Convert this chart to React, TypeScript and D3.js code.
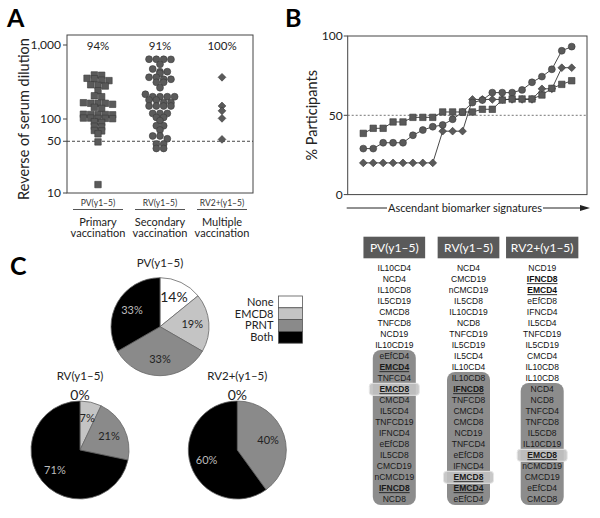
import React from 'react';
import * as d3 from 'd3';

// ---------- Panel A data ----------
const groups = ['PV(y1–5)', 'RV(y1–5)', 'RV2+(y1–5)'];
const groupNames = [['Primary', 'vaccination'], ['Secondary', 'vaccination'], ['Multiple', 'vaccination']];
const groupPct = ['94%', '91%', '100%'];
const pvTiters = [394, 390, 355, 350, 335, 330, 290, 285, 279, 241, 206, 200, 166, 163, 163, 163, 158, 144, 139,
  115, 115, 114, 115, 116, 102, 103, 101, 103, 102, 90, 92, 78, 80, 69, 70, 63, 49, 13];
const rvTiters = [641, 643, 639, 641, 548, 474, 436, 436, 415, 366, 366, 344, 344, 313, 313, 265, 216, 200, 200, 200, 200,
  181, 181, 166, 166, 150, 150, 150, 150, 119, 119, 119, 105, 105, 95, 81, 81, 71, 59, 59, 54, 46, 46, 40, 40];
const rv2Titers = [366, 150, 129, 102, 53];
const titerTicks = [10, 50, 100, 1000];
const titerCutoff = 50;

// ---------- Panel B data ----------
const pvPct = [38.6, 41.8, 41.8, 45.8, 45.8, 48.7, 48.7, 48.7, 52.1, 52.1, 52.1, 52.1, 53.8, 53.8, 59.6, 60.3, 60.3, 60.3, 62.8, 67, 69.5, 71.8];
const rvPct = [29, 29, 32.7, 32.7, 32.7, 37.4, 40.7, 42.8, 43.9, 47.5, 52, 58, 59.6, 64.3, 64.3, 64.3, 66, 70.8, 74.4, 79, 90.7, 93.3];
const rv2Pct = [20, 20, 20, 20, 20, 20, 20, 20, 40, 40, 40, 60, 60, 60, 60, 60, 60, 60, 66.7, 66.7, 80, 80];
const pctTicks = [0, 50, 100];

// ---------- Panel C data ----------
const pieCats = ['None', 'EMCD8', 'PRNT', 'Both'];
const pieColors = ['#ffffff', '#c4c4c4', '#8a8a8a', '#000000'];
const pvPie = [14, 19, 33, 33];
const rvPie = [0, 7, 21, 71];
const rv2Pie = [0, 0, 40, 60];

// ---------- Signature table ----------
const pvSig = ['IL10CD4', 'NCD4', 'IL10CD8', 'IL5CD19', 'CMCD8', 'TNFCD8', 'NCD19', 'IL10CD19', 'eEfCD4', 'EMCD4', 'TNFCD4',
  'EMCD8', 'CMCD4', 'IL5CD4', 'TNFCD19', 'IFNCD4', 'eEfCD8', 'IL5CD8', 'CMCD19', 'nCMCD19', 'IFNCD8', 'NCD8'];
const rvSig = ['NCD4', 'CMCD19', 'nCMCD19', 'IL5CD8', 'IL10CD19', 'NCD8', 'TNFCD19', 'IL5CD19', 'IL5CD4', 'IL10CD4', 'IL10CD8',
  'IFNCD8', 'TNFCD8', 'CMCD4', 'CMCD8', 'NCD19', 'TNFCD4', 'eEfCD8', 'IFNCD4', 'EMCD8', 'EMCD4', 'eEfCD4'];
const rv2Sig = ['NCD19', 'IFNCD8', 'EMCD4', 'eEfCD8', 'IFNCD4', 'IL5CD4', 'TNFCD19', 'IL5CD19', 'CMCD4', 'IL10CD8', 'IL10CD8',
  'NCD4', 'NCD8', 'TNFCD4', 'TNFCD8', 'IL5CD8', 'IL10CD19', 'EMCD8', 'nCMCD19', 'CMCD19', 'eEfCD4', 'CMCD8'];
const sigShadeStart = [8, 10, 11];
const boldSigs = ['EMCD4', 'EMCD8', 'IFNCD8'];
const highlightSig = 'EMCD8';

const FONT = 'Lato, "Open Sans", sans-serif';
const ARIAL = '"Liberation Sans", Arial, sans-serif';
const MARK = '#5a5a5a';
const MARK_STROKE = '#3a3a3a';

type Pt = { v: number; x: number; y: number };

// Prism-like column scatter: bin points into rows, centre each row.
function swarm(values: number[], y: (v: number) => number, xc: number, d: number, binH: number): Pt[] {
  const pts: Pt[] = values.map(v => ({ v, x: xc, y: y(v) })).sort((a, b) => a.y - b.y);
  const rows: Pt[][] = [];
  for (const p of pts) {
    const last = rows[rows.length - 1];
    if (last && p.y - last[0].y < binH) last.push(p);
    else rows.push([p]);
  }
  for (const row of rows) {
    const n = row.length;
    row.forEach((p, j) => { p.x = xc + (j - (n - 1) / 2) * d; });
  }
  return pts;
}

const squarePath = d3.symbol().type(d3.symbolSquare).size(42)()!;
const diamondPath = d3.symbol().type(d3.symbolSquare).size(30)()!;

function Marker({ kind, x, y }: { kind: number; x: number; y: number }) {
  if (kind === 0) return <path d={squarePath} transform={`translate(${x},${y})`} fill={MARK} stroke={MARK_STROKE} strokeWidth={0.6} />;
  if (kind === 1) return <circle cx={x} cy={y} r={3.45} fill={MARK} stroke={MARK_STROKE} strokeWidth={0.6} />;
  return <path d={diamondPath} transform={`translate(${x},${y}) rotate(45)`} fill={MARK} stroke={MARK_STROKE} strokeWidth={0.6} />;
}

function PanelA() {
  const left = 67, right = 253, top = 35, bottom = 193;
  const y = d3.scaleLog().domain([10, 1000]).range([193, 45]);
  const x = d3.scalePoint<string>().domain(groups).range([left, right]).padding(0.5);
  const sets = [pvTiters, rvTiters, rv2Titers];
  const fmt = d3.format(',');
  return (
    <g>
      <text x={7} y={27} fontFamily={FONT} fontWeight={700} fontSize={25}>A</text>
      <rect x={left} y={top} width={right - left} height={bottom - top} fill="none" stroke="#444" strokeWidth={1} />
      {titerTicks.map(t => (
        <g key={t}>
          <line x1={left - 4} x2={left} y1={y(t)} y2={y(t)} stroke="#444" />
          <text x={left - 6} y={y(t)} dy="0.35em" textAnchor="end" fontFamily={FONT} fontSize={12} fill="#222">{fmt(t)}</text>
        </g>
      ))}
      <line x1={left} x2={right} y1={y(titerCutoff)} y2={y(titerCutoff)} stroke="#333" strokeDasharray="3,2" strokeWidth={0.9} />
      <text transform={`translate(24,${(45 + 193) / 2}) rotate(-90)`} textAnchor="middle" dy="0.35em" fontFamily={FONT} fontSize={14.5} fill="#222">Reverse of serum dilution</text>
      {groups.map((g, gi) => {
        const cx = x(g)!;
        const pts = swarm(sets[gi], y, cx, 7.3, 3.1);
        return (
          <g key={g}>
            <text x={cx} y={46} dy="0.35em" textAnchor="middle" fontFamily={FONT} fontSize={11.5} fill="#222">{groupPct[gi]}</text>
            {pts.map((p, i) => <Marker key={i} kind={gi} x={p.x} y={p.y} />)}
            <text x={cx} y={203} dy="0.35em" textAnchor="middle" fontFamily={FONT} fontSize={8.5} fill="#333">{g}</text>
            <line x1={cx - 25} x2={cx + 25} y1={209.5} y2={209.5} stroke="#555" strokeWidth={1} />
            <text x={cx} y={222} dy="0.35em" textAnchor="middle" fontFamily={FONT} fontSize={11} fill="#222">{groupNames[gi][0]}</text>
            <text x={cx} y={233.5} dy="0.35em" textAnchor="middle" fontFamily={FONT} fontSize={11} fill="#222">{groupNames[gi][1]}</text>
          </g>
        );
      })}
    </g>
  );
}

function PanelB() {
  const left = 347.7, right = 587, top = 36, bottom = 194.6;
  const y = d3.scaleLinear().domain([0, 100]).range([bottom, top]);
  const idx = d3.range(pvPct.length);
  const x = d3.scalePoint<number>().domain(idx).range([363.3, 571.7]);
  const series = [pvPct, rvPct, rv2Pct];
  const line = d3.line<number>().x((_, i) => x(i)!).y(d => y(d));
  return (
    <g>
      <text x={285} y={27} fontFamily={FONT} fontWeight={700} fontSize={25}>B</text>
      <rect x={left} y={top} width={right - left} height={bottom - top} fill="none" stroke="#444" strokeWidth={1} />
      {pctTicks.map(t => (
        <g key={t}>
          <line x1={left - 4} x2={left} y1={y(t)} y2={y(t)} stroke="#444" />
          <text x={left - 5} y={y(t)} dy="0.35em" textAnchor="end" fontFamily={FONT} fontSize={12} fill="#222">{t}</text>
        </g>
      ))}
      <line x1={left} x2={right} y1={y(50)} y2={y(50)} stroke="#666" strokeDasharray="2,2" strokeWidth={0.9} />
      <text transform={`translate(312,${(top + bottom) / 2}) rotate(-90)`} textAnchor="middle" dy="0.35em" fontFamily={FONT} fontSize={14.5} fill="#222">% Participants</text>
      {[2, 1, 0].map(si => (
        <g key={si}>
          <path d={line(series[si])!} fill="none" stroke="#333" strokeWidth={0.9} />
          {series[si].map((v, i) => <Marker key={i} kind={si} x={x(i)!} y={y(v)} />)}
        </g>
      ))}
      <line x1={346.7} x2={585} y1={208} y2={208} stroke="#222" strokeWidth={1} />
      <path d="M590,208 L580,205 L580,211 Z" fill="#222" />
      <rect x={387} y={200} width={156} height={16} fill="#fff" />
      <text x={465} y={208} dy="0.35em" textAnchor="middle" fontFamily={FONT} fontSize={11} fill="#222">Ascendant biomarker signatures</text>
    </g>
  );
}

function Pie({ values, title, cx, cy, titleY }: { values: number[]; title: string; cx: number; cy: number; titleY: number }) {
  const r = 49;
  const arcs = d3.pie<number>().sort(null).value(d => d)(values);
  const arc = d3.arc<d3.PieArcDatum<number>>().innerRadius(0).outerRadius(r);
  const lab = d3.arc<d3.PieArcDatum<number>>().innerRadius(r * 0.66).outerRadius(r * 0.66);
  return (
    <g>
      <text x={cx} y={titleY} dy="0.35em" textAnchor="middle" fontFamily={FONT} fontSize={11.5} fill="#222">{title}</text>
      <g transform={`translate(${cx},${cy})`}>
        {arcs.map((a, i) => a.value > 0 && (
          <path key={i} d={arc(a)!} fill={pieColors[i]} stroke="#666" strokeWidth={0.8} />
        ))}
        {arcs.map((a, i) => {
          if (a.value === 0) {
            if (i !== 0) return null;
            return <text key={i} x={0} y={-r - 6} dy="0.35em" textAnchor="middle" fontFamily={FONT} fontSize={14} fill="#222">{a.value}%</text>;
          }
          const [lx, ly] = lab.centroid(a);
          return (
            <text key={i} x={lx} y={ly} dy="0.35em" textAnchor="middle" fontFamily={FONT}
              fontSize={i === 0 ? 14 : 11} fill={i === 3 ? '#bdbdbd' : '#222'}>{a.value}%</text>
          );
        })}
      </g>
    </g>
  );
}

function PanelC() {
  const legX = 278.5, legY = 296, legH = 11.8, legW = 24;
  return (
    <g>
      <text x={10} y={275} fontFamily={FONT} fontWeight={700} fontSize={25}>C</text>
      <Pie values={pvPie} title={groups[0]} cx={160} cy={326.7} titleY={263.3} />
      <Pie values={rvPie} title={groups[1]} cx={80} cy={450} titleY={376} />
      <Pie values={rv2Pie} title={groups[2]} cx={237.3} cy={450} titleY={376} />
      {pieCats.map((c, i) => (
        <g key={c}>
          <rect x={legX} y={legY + i * legH} width={legW} height={legH} fill={pieColors[i]} stroke="#555" strokeWidth={0.8} />
          <text x={legX - 5} y={legY + i * legH + legH / 2} dy="0.35em" textAnchor="end" fontFamily={FONT} fontSize={11} fill="#222">{c}</text>
        </g>
      ))}
    </g>
  );
}

function SigTable() {
  const cols = [pvSig, rvSig, rv2Sig];
  const centers = [394.3, 468.5, 542.2];
  const headW = [61.7, 61.7, 72.3];
  const rowY = (i: number) => 268.3 + i * 11;
  return (
    <g>
      {cols.map((col, ci) => {
        const cx = centers[ci];
        const s = sigShadeStart[ci];
        return (
          <g key={ci}>
            <rect x={cx - headW[ci] / 2} y={236.7} width={headW[ci]} height={21.6} fill="#5a5a5a" />
            <text x={cx} y={247.8} dy="0.35em" textAnchor="middle" fontFamily={FONT} fontSize={12} fill="#fff">{groups[ci]}</text>
            <rect x={cx - 21.5} y={rowY(s) - 6.3} width={43} height={rowY(col.length - 1) + 5.7 - (rowY(s) - 6.3)} rx={8} fill="#8c8c8c" />
            {col.map((name, ri) => name === highlightSig && (
              <rect key={'h' + ri} x={cx - 25} y={rowY(ri) - 6} width={50} height={12} rx={3} fill="#c2c2c2" fillOpacity={0.9} stroke="#e6e6e6" strokeWidth={1} />
            ))}
            {col.map((name, ri) => {
              const bold = boldSigs.includes(name);
              return (
                <text key={ri} x={cx} y={rowY(ri)} dy="0.35em" textAnchor="middle" fontFamily={ARIAL} fontSize={8.5}
                  fontWeight={bold ? 700 : 400} textDecoration={bold ? 'underline' : undefined} fill={ri >= s ? '#1a1a1a' : '#111'}>{name}</text>
              );
            })}
          </g>
        );
      })}
    </g>
  );
}

export default function App() {
  return (
    <svg width={600} height={518} viewBox="0 0 600 518" style={{ position: 'absolute', left: 0, top: 0, background: '#fff' }}>
      <rect width={600} height={518} fill="#fff" />
      <PanelA />
      <PanelB />
      <PanelC />
      <SigTable />
    </svg>
  );
}
